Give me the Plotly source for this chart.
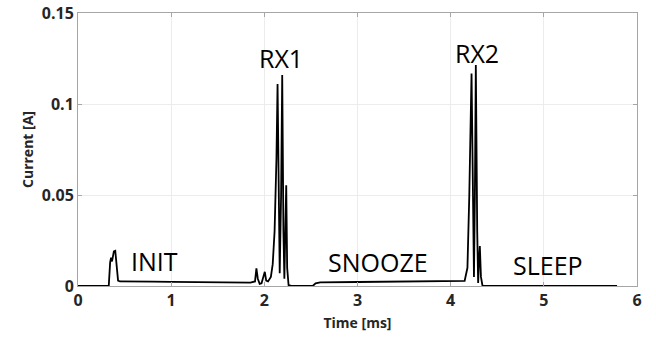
import plotly.graph_objects as go

# Time [ms] and current [A] samples
time_ms = [0, 0.33, 0.345, 0.355, 0.365, 0.385, 0.40, 0.415, 0.43, 0.45, 0.6, 0.8, 1.0,
           1.2, 1.5, 1.85, 1.9, 1.915, 1.93, 1.95, 1.97, 1.99, 2.005, 2.02, 2.04, 2.07,
           2.09, 2.11, 2.13, 2.142, 2.155, 2.165, 2.18, 2.192, 2.205, 2.215, 2.225, 2.235,
           2.245, 2.26, 2.3, 2.52, 2.55, 2.6, 3.0, 3.5, 4.0, 4.15, 4.18, 4.2, 4.224, 4.24,
           4.25, 4.26, 4.27, 4.285, 4.295, 4.305, 4.313, 4.325, 4.342, 5.786]
current_a = [0, 0, 0.013, 0.0155, 0.0135, 0.019, 0.0193, 0.012, 0.003, 0.0025, 0.0026,
             0.0024, 0.0023, 0.0021, 0.0019, 0.0018, 0.0025, 0.0097, 0.004, 0.0012, 0.0015,
             0.006, 0.0078, 0.003, 0.0025, 0.005, 0.012, 0.03, 0.07, 0.111, 0.03, 0.007,
             0.05, 0.1159, 0.03, 0.004, 0.03, 0.0553, 0.01, 0.0005, 0, 0, 0.0015, 0.002,
             0.0022, 0.0023, 0.0025, 0.0028, 0.01, 0.05, 0.1168, 0.03, 0.005, 0.05, 0.1214,
             0.03, 0.0016, 0.015, 0.0219, 0.005, 0, 0]

phase_labels = ["INIT", "RX1", "SNOOZE", "RX2", "SLEEP"]
phase_x = [0.816, 2.18, 3.22, 4.28, 5.04]
phase_y = [0.0135, 0.1254, 0.0131, 0.128, 0.0118]

x_ticks = [0, 1, 2, 3, 4, 5, 6]
y_ticks = [0, 0.05, 0.1, 0.15]
y_tick_text = ["0", "0.05", "0.1", "0.15"]

fig = go.Figure()
fig.add_trace(go.Scatter(x=time_ms, y=current_a, mode="lines",
                         line=dict(color="black", width=1.8), showlegend=False))

for t, xx, yy in zip(phase_labels, phase_x, phase_y):
    fig.add_annotation(x=xx, y=yy, xref="x", yref="y", text=t, showarrow=False,
                       font=dict(family="Open Sans", size=25, color="black"))

axis_common = dict(showline=True, linecolor="#a6a6a6", linewidth=1, mirror="ticks",
                   ticks="inside", ticklen=4, tickcolor="#a6a6a6", automargin=False,
                   showgrid=True, gridcolor="#ececec", gridwidth=1, zeroline=False,
                   tickfont=dict(family="Open Sans", size=16, color="#262626", weight="bold"))

fig.update_xaxes(range=[0, 6], tickvals=x_ticks,
                 title=dict(text="Time [ms]", standoff=7,
                            font=dict(family="Open Sans", size=14, color="#262626", weight="bold")),
                 **axis_common)
fig.update_yaxes(range=[0, 0.15], tickvals=y_ticks, ticktext=y_tick_text,
                 title=dict(text="Current [A]", standoff=4,
                            font=dict(family="Open Sans", size=14, color="#262626", weight="bold")),
                 **axis_common)

fig.update_layout(width=656, height=337, margin=dict(l=78, r=19, t=13, b=51),
                  plot_bgcolor="white", paper_bgcolor="white")

fig.write_html("out.html")
